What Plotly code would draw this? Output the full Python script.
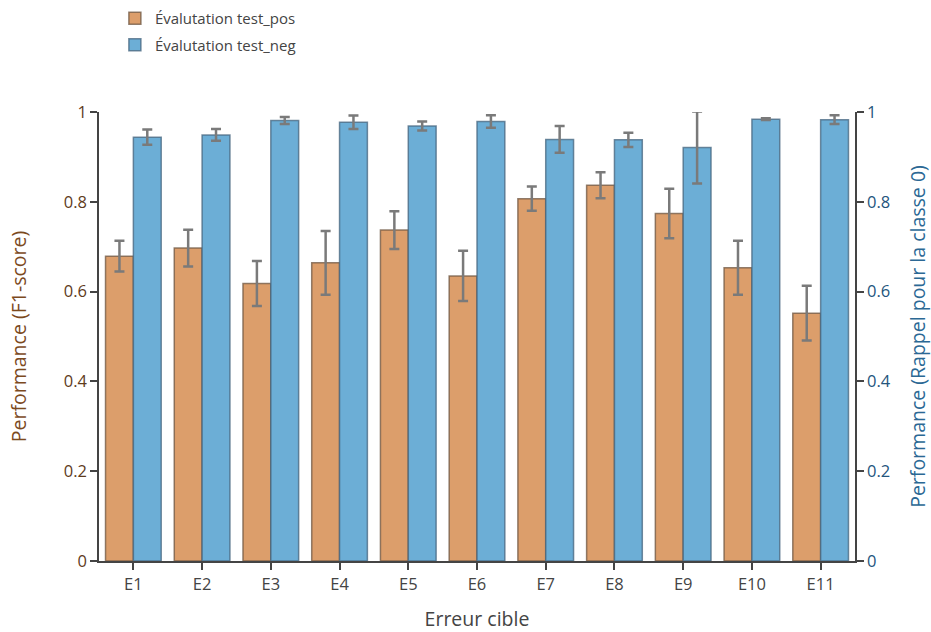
import plotly.graph_objects as go

# Categories and measured scores
categories = ["E1", "E2", "E3", "E4", "E5", "E6", "E7", "E8", "E9", "E10", "E11"]
pos_f1 = [0.679, 0.697, 0.618, 0.664, 0.737, 0.635, 0.807, 0.837, 0.774, 0.653, 0.552]
pos_err = [0.034, 0.041, 0.050, 0.071, 0.042, 0.056, 0.027, 0.029, 0.055, 0.060, 0.061]
neg_recall = [0.944, 0.949, 0.981, 0.977, 0.969, 0.979, 0.939, 0.938, 0.921, 0.984, 0.983]
neg_err = [0.017, 0.013, 0.008, 0.015, 0.010, 0.014, 0.030, 0.016, 0.080, 0.002, 0.010]
y_ticks = [0, 0.2, 0.4, 0.6, 0.8, 1]
y_ticklabels = ["0", "0.2", "0.4", "0.6", "0.8", "1"]

FONT = "Open Sans"
BAR_W = 0.405
TICK_SIZE = 16.5
TITLE_SIZE = 19.5

fig = go.Figure()
fig.add_trace(go.Bar(
    x=categories, y=pos_f1, name="Évalutation test_pos", legendgroup="pos",
    marker=dict(color="#dc9e6b", line=dict(color="rgba(110,85,65,0.75)", width=1.5)),
    error_y=dict(type="data", array=pos_err, color="#7a7a7a", thickness=2.5, width=5),
    width=BAR_W, offset=-BAR_W, yaxis="y",
))
fig.add_trace(go.Bar(
    x=categories, y=neg_recall, name="Évalutation test_neg", legendgroup="neg",
    marker=dict(color="#6caed6", line=dict(color="rgba(70,100,125,0.75)", width=1.5)),
    error_y=dict(type="data", array=neg_err, color="#7a7a7a", thickness=2.5, width=5),
    width=BAR_W, offset=0, yaxis="y2",
))

axis_common = dict(
    range=[0, 1], tickvals=y_ticks, ticktext=y_ticklabels,
    showgrid=False, zeroline=False, showline=True, linecolor="#444", linewidth=1.5,
    ticks="outside", ticklen=7, tickwidth=1.5, tickcolor="#444",
)

fig.update_layout(
    width=931, height=632,
    margin=dict(l=99, r=76, t=112, b=71, autoexpand=False),
    paper_bgcolor="white", plot_bgcolor="white",
    font=dict(family=FONT, size=15, color="#444"),
    barmode="overlay",
    showlegend=True,
    legend=dict(x=0.021, y=1.245, xref="paper", yref="paper",
                xanchor="left", yanchor="top", traceorder="grouped", tracegroupgap=4,
                font=dict(size=15, color="#444"), bgcolor="rgba(0,0,0,0)"),
    xaxis=dict(
        title=dict(text="Erreur cible", font=dict(size=TITLE_SIZE, color="#444"), standoff=26),
        showgrid=False, showline=True, linecolor="#444", linewidth=1.5,
        ticks="outside", ticklen=7, tickwidth=1.5, tickcolor="#444",
        range=[-0.5, 10.5], tickfont=dict(size=TICK_SIZE, color="#444"),
    ),
    yaxis=dict(
        title=dict(text="Performance (F1-score)", font=dict(size=TITLE_SIZE, color="#7c4a1e"), standoff=32),
        tickfont=dict(size=TICK_SIZE, color="#5e3b1c"), **axis_common,
    ),
    yaxis2=dict(
        title=dict(text="Performance (Rappel pour la classe 0)", font=dict(size=TITLE_SIZE, color="#2b6894"), standoff=24),
        tickfont=dict(size=TICK_SIZE, color="#24557d"), overlaying="y", side="right",
        **axis_common,
    ),
)

fig.write_html("out.html")
